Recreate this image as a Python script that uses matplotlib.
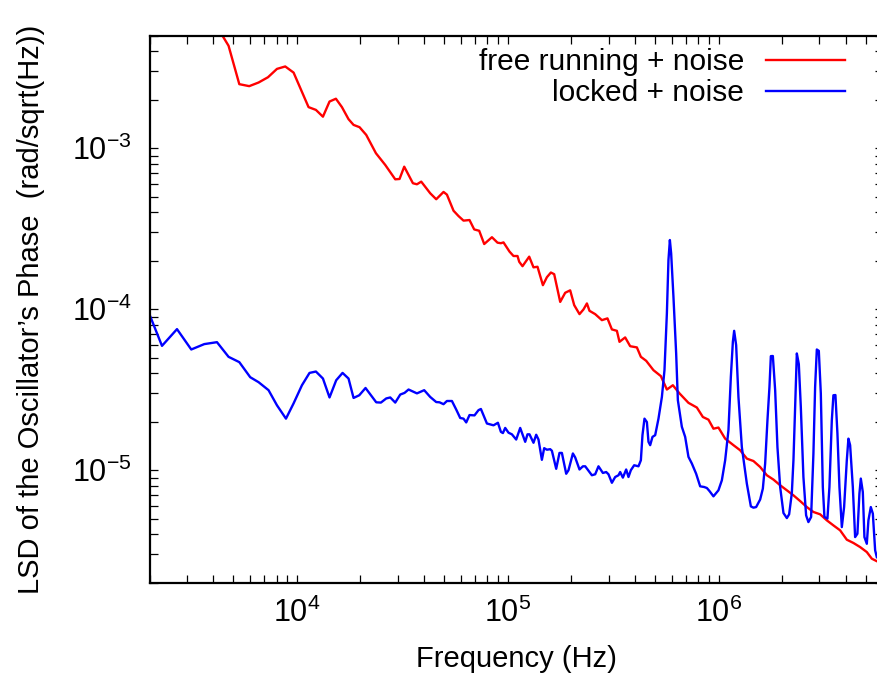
import matplotlib
matplotlib.use("Agg")
import matplotlib.pyplot as plt
from matplotlib.ticker import FixedLocator, LogLocator, NullFormatter, FixedFormatter

# ---------------- data ----------------
free_f = [3970, 4460, 4740, 5330, 5940, 6580, 7290, 8040, 8800, 9640,
          11350, 12300, 13280, 14270, 15300, 16340, 17560, 18550, 19800, 21300,
          23680, 26220, 29240, 30640, 32250, 35460, 37050, 38830, 42830, 45730,
          49530, 51390, 55240, 58330, 61600, 65770, 69220, 73110, 77220, 84000,
          89280, 92640, 95310, 101760, 106300, 111060, 113150, 117290, 126180, 132240,
          138150, 146540, 153050, 159880, 165740, 176980, 186900, 197350, 206200, 218480,
          228250, 236880, 243690, 259260, 279000, 296480, 311130, 328590, 338040, 359680,
          379870, 408730, 426900, 452400, 489780, 531090, 567080, 605340, 650680, 717650,
          786600, 840000, 892800, 942800, 995600, 1.0713e6, 1.173e6, 1.2618e6, 1.3573e6, 1.4588e6,
          1.5694e6, 1.6888e6, 1.815e6, 1.9526e6, 2.1007e6, 2.2575e6, 2.4285e6, 2.6129e6, 2.8076e6, 3.0206e6,
          3.2496e6, 3.4919e6, 3.757e6, 4.0419e6, 4.3453e6, 4.6733e6, 5.0281e6, 5.3102e6, 5.6084e6, 6.0e6]
free_v = [6.37e-3, 4.94e-3, 4.33e-3, 2.50e-3, 2.43e-3, 2.56e-3, 2.76e-3, 3.11e-3, 3.22e-3, 2.95e-3,
          1.80e-3, 1.73e-3, 1.57e-3, 1.95e-3, 2.03e-3, 1.80e-3, 1.515e-3, 1.396e-3, 1.351e-3, 1.21e-3,
          9.31e-4, 7.87e-4, 6.41e-4, 6.44e-4, 7.68e-4, 6.06e-4, 5.97e-4, 6.20e-4, 5.25e-4, 4.82e-4,
          5.35e-4, 5.15e-4, 4.09e-4, 3.79e-4, 3.55e-4, 3.58e-4, 3.13e-4, 3.07e-4, 2.54e-4, 2.80e-4,
          2.59e-4, 2.57e-4, 2.60e-4, 2.28e-4, 2.14e-4, 2.14e-4, 1.97e-4, 1.85e-4, 2.12e-4, 1.82e-4,
          1.835e-4, 1.41e-4, 1.58e-4, 1.69e-4, 1.65e-4, 1.11e-4, 1.265e-4, 1.31e-4, 1.06e-4, 9.32e-5,
          9.97e-5, 1.086e-4, 9.77e-5, 9.32e-5, 8.55e-5, 8.77e-5, 7.49e-5, 7.34e-5, 6.27e-5, 6.68e-5,
          5.89e-5, 5.79e-5, 5.06e-5, 4.78e-5, 4.18e-5, 3.84e-5, 3.17e-5, 3.37e-5, 3.00e-5, 2.62e-5,
          2.45e-5, 2.14e-5, 2.06e-5, 1.81e-5, 1.84e-5, 1.57e-5, 1.43e-5, 1.33e-5, 1.18e-5, 1.14e-5,
          1.047e-5, 9.3e-6, 8.74e-6, 8.06e-6, 7.5e-6, 6.98e-6, 6.43e-6, 5.9e-6, 5.5e-6, 5.32e-6,
          4.88e-6, 4.54e-6, 4.23e-6, 3.70e-6, 3.53e-6, 3.33e-6, 3.10e-6, 2.82e-6, 2.72e-6, 2.62e-6]

locked_f = [2020, 2292, 2700, 3155, 3637, 4177, 4740, 5330, 6005, 6580,
            7335, 8040, 8870, 9640, 10560, 11470, 12300, 13280, 14270, 15350,
            16450, 17560, 18550, 19740, 21140, 22420, 23760, 25010, 26500, 27690,
            29240, 30880, 32360, 33810, 37050, 40110, 42830, 45730, 47410, 49530,
            51390, 54280, 56890, 59420, 61600, 63450, 65770, 69450, 72550, 74480,
            79530, 85460, 89670, 92640, 94690, 97100, 100650, 104470, 109480, 114370,
            120780, 123840, 126580, 132240, 136200, 139640, 144900, 148590, 153050, 158680,
            161640, 169410, 175610, 180280, 188950, 193740, 203270, 208440, 218480, 226780,
            232540, 250120, 259260, 268810, 282000, 292390, 299820, 311130, 322530, 334390,
            340600, 350750, 363660, 372900, 382750, 396810, 415900, 426900, 434460, 444080,
            455900, 463900, 472600, 484600, 499100, 517400, 537000, 552400, 567080, 576900,
            585900, 594200, 609300, 627500, 639300, 667700, 692300, 717650, 744700, 780500,
            815400, 852000, 877400, 902800, 942800, 995600, 1.0333e6, 1.0713e6, 1.1105e6, 1.140e6,
            1.1653e6, 1.1818e6, 1.2078e6, 1.2385e6, 1.2853e6, 1.3573e6, 1.4181e6, 1.4588e6, 1.5023e6, 1.5694e6,
            1.6165e6, 1.6577e6, 1.6998e6, 1.7374e6, 1.7641e6, 1.8031e6, 1.8489e6, 1.8958e6, 1.9526e6, 2.0243e6,
            2.1007e6, 2.1539e6, 2.2182e6, 2.2575e6, 2.2993e6, 2.3425e6, 2.3938e6, 2.4467e6, 2.5170e6, 2.5922e6,
            2.6580e6, 2.7375e6, 2.8076e6, 2.8599e6, 2.9137e6, 2.9777e6, 3.0435e6, 3.1108e6, 3.1659e6, 3.2712e6,
            3.3436e6, 3.4318e6, 3.4919e6, 3.5696e6, 3.6486e6, 3.7292e6, 3.828e6, 3.9245e6, 4.0419e6, 4.1134e6,
            4.1907e6, 4.3160e6, 4.4256e6, 4.5381e6, 4.6383e6, 4.7094e6, 4.8135e6, 4.8986e6, 5.0281e6, 5.117e6,
            5.252e6, 5.3703e6, 5.5065e6, 5.6084e6]
locked_v = [8.97e-5, 5.92e-5, 7.52e-5, 5.62e-5, 6.07e-5, 6.24e-5, 5.06e-5, 4.69e-5, 3.78e-5, 3.52e-5,
            3.14e-5, 2.53e-5, 2.09e-5, 2.60e-5, 3.37e-5, 4.02e-5, 4.10e-5, 3.71e-5, 2.83e-5, 3.62e-5,
            4.02e-5, 3.71e-5, 2.81e-5, 2.92e-5, 3.24e-5, 2.92e-5, 2.64e-5, 2.63e-5, 2.79e-5, 2.83e-5,
            2.63e-5, 2.95e-5, 3.02e-5, 3.17e-5, 3.00e-5, 3.14e-5, 2.85e-5, 2.65e-5, 2.64e-5, 2.57e-5,
            2.69e-5, 2.69e-5, 2.38e-5, 2.11e-5, 2.09e-5, 1.98e-5, 2.20e-5, 2.19e-5, 2.36e-5, 2.40e-5,
            1.95e-5, 1.90e-5, 1.97e-5, 1.73e-5, 1.70e-5, 1.83e-5, 1.71e-5, 1.67e-5, 1.55e-5, 1.83e-5,
            1.50e-5, 1.67e-5, 1.67e-5, 1.48e-5, 1.66e-5, 1.55e-5, 1.16e-5, 1.37e-5, 1.34e-5, 1.35e-5,
            1.32e-5, 1.02e-5, 1.28e-5, 1.28e-5, 9.5e-6, 9.99e-6, 1.27e-5, 1.20e-5, 1.01e-5, 1.057e-5,
            1.057e-5, 9.3e-6, 9.43e-6, 1.057e-5, 9.61e-6, 9.74e-6, 9.43e-6, 8.35e-6, 9.07e-6, 9.3e-6,
            9.74e-6, 8.99e-6, 1.01e-5, 9.07e-6, 1.00e-5, 1.073e-5, 1.057e-5, 1.152e-5, 1.65e-5, 2.09e-5,
            1.99e-5, 1.50e-5, 1.43e-5, 1.61e-5, 1.65e-5, 2.09e-5, 2.85e-5, 4.18e-5, 9.42e-5, 2.02e-4,
            2.69e-4, 2.22e-4, 1.19e-4, 5.31e-5, 2.72e-5, 1.86e-5, 1.61e-5, 1.21e-5, 1.10e-5, 9.5e-6,
            7.94e-6, 7.86e-6, 7.75e-6, 7.42e-6, 6.88e-6, 7.5e-6, 8.65e-6, 1.152e-5, 1.77e-5, 3.80e-5,
            6.27e-5, 7.34e-5, 5.98e-5, 2.85e-5, 1.39e-5, 8.25e-6, 5.96e-6, 5.85e-6, 5.9e-6, 6.57e-6,
            7.68e-6, 1.10e-5, 2.04e-5, 3.29e-5, 5.11e-5, 5.12e-5, 3.14e-5, 1.39e-5, 7.86e-6, 5.42e-6,
            5.04e-6, 5.32e-6, 7.21e-6, 1.152e-5, 2.47e-5, 5.31e-5, 4.56e-5, 2.47e-5, 9.07e-6, 5.24e-6,
            4.76e-6, 5.12e-6, 1.27e-5, 3.29e-5, 5.62e-5, 5.51e-5, 3.0e-5, 7.86e-6, 5.12e-6, 5.0e-6,
            7.86e-6, 2.04e-5, 2.92e-5, 2.93e-5, 1.69e-5, 7.86e-6, 4.43e-6, 5.9e-6, 1.152e-5, 1.57e-5,
            1.43e-5, 7.86e-6, 3.84e-6, 4.03e-6, 7.15e-6, 8.87e-6, 7.32e-6, 3.84e-6, 3.49e-6, 4.88e-6,
            5.9e-6, 5.37e-6, 3.18e-6, 2.88e-6]

series_labels = ["free running + noise", "locked + noise"]
x_ticks = [1e4, 1e5, 1e6]
x_tick_labels = [r"$10^{4}$", r"$10^{5}$", r"$10^{6}$"]
y_ticks = [1e-5, 1e-4, 1e-3]
y_tick_labels = [r"$10^{-5}$", r"$10^{-4}$", r"$10^{-3}$"]
x_label = "Frequency (Hz)"
y_label = "LSD of the Oscillator\u2019s Phase  (rad/sqrt(Hz))"

# ---------------- style ----------------
plt.rcParams["font.family"] = ["Liberation Sans", "DejaVu Sans"]
plt.rcParams["mathtext.fontset"] = "custom"
plt.rcParams["mathtext.rm"] = "Liberation Sans"
plt.rcParams["mathtext.it"] = "Liberation Sans"
plt.rcParams["mathtext.default"] = "regular"

W, H = 877, 678
fig = plt.figure(figsize=(W / 100, H / 100), dpi=100)
ax_left, ax_right, ax_top, ax_bottom = 149.5, 883.0, 35.7, 582.7
ax = fig.add_axes([ax_left / W, 1 - ax_bottom / H, (ax_right - ax_left) / W, (ax_bottom - ax_top) / H])

ax.plot(free_f, free_v, color="#ff0000", lw=1.7, label=series_labels[0])
ax.plot(locked_f, locked_v, color="#0000ff", lw=1.7, label=series_labels[1])

ax.set_xscale("log")
ax.set_yscale("log")
ax.set_xlim(2000, 6e6)
ax.set_ylim(2e-6, 5e-3)

ax.xaxis.set_major_locator(FixedLocator(x_ticks))
ax.xaxis.set_major_formatter(FixedFormatter(x_tick_labels))
ax.yaxis.set_major_locator(FixedLocator(y_ticks))
ax.yaxis.set_major_formatter(FixedFormatter(y_tick_labels))
ax.xaxis.set_minor_locator(LogLocator(base=10, subs=range(2, 10), numticks=20))
ax.yaxis.set_minor_locator(LogLocator(base=10, subs=range(2, 10), numticks=20))
ax.xaxis.set_minor_formatter(NullFormatter())
ax.yaxis.set_minor_formatter(NullFormatter())

ax.tick_params(which="both", direction="in", top=True, right=True, length=6, width=0.9, color="black")
ax.tick_params(axis="x", which="major", labelsize=22, pad=11)
ax.tick_params(axis="y", which="major", labelsize=22, pad=13)
for s in ax.spines.values():
    s.set_linewidth(1.6)

ax.set_xlabel(x_label, fontsize=21, labelpad=11)
ax.set_ylabel(y_label, fontsize=21, labelpad=19)

leg = ax.legend(loc="upper right", bbox_to_anchor=(845 / W, 1 - 48 / H),
                bbox_transform=fig.transFigure, frameon=False, markerfirst=False,
                fontsize=21.5, handlelength=2.65, handletextpad=0.72, labelspacing=0.1,
                borderpad=0, borderaxespad=0)

fig.savefig("out.png", dpi=100)
